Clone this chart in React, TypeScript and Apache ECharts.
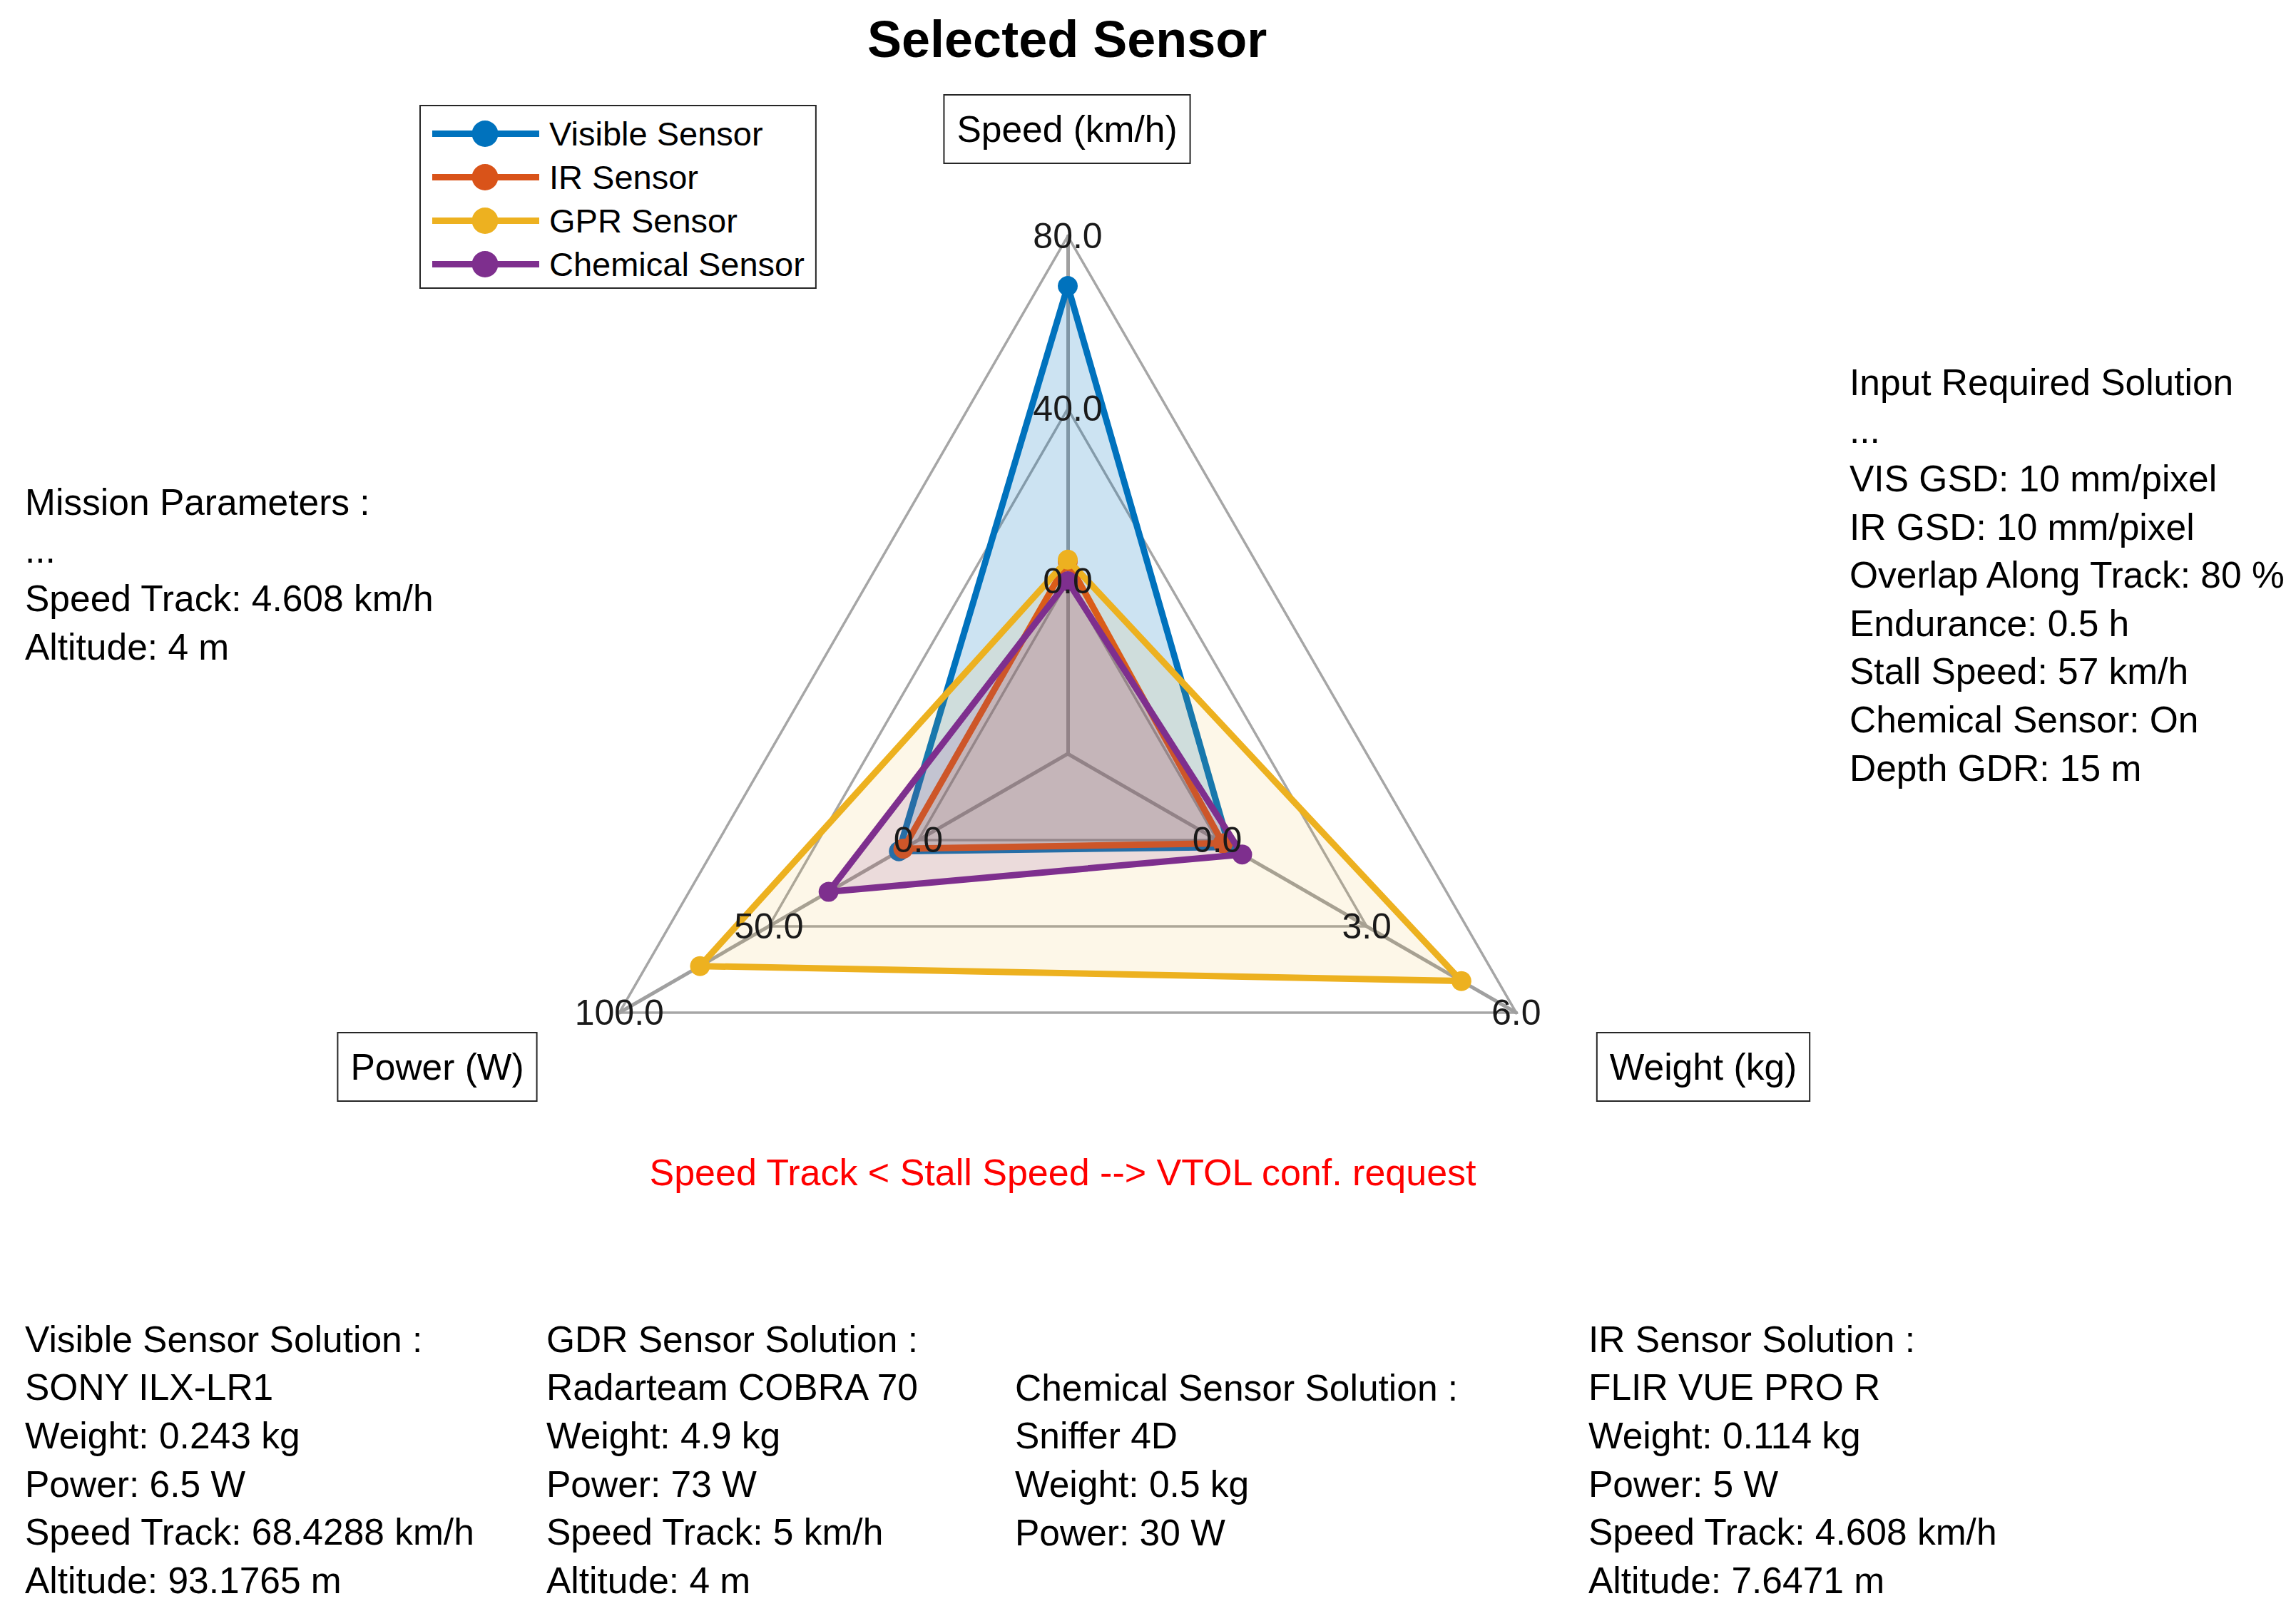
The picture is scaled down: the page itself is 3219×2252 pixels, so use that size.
import React, { useEffect, useRef } from 'react';
import * as echarts from 'echarts';

// ---- data ----
const indicatorNames = ['Speed (km/h)', 'Power (W)', 'Weight (kg)'];
const indicatorMin = [-40, -50, -3];
const indicatorMax = [80, 100, 6];

const seriesNames = ['Visible Sensor', 'IR Sensor', 'GPR Sensor', 'Chemical Sensor'];
// values ordered as [Speed, Power, Weight]
const visibleValues = [68.4288, 6.5, 0.243];
const irValues = [4.608, 5, 0.114];
const gprValues = [5, 73, 4.9];
const chemicalValues = [0, 30, 0.5];
const seriesColors = ['#0072BD', '#D95319', '#EDB120', '#7E2F8E'];
const fillOpacity = [0.2, 0.14, 0.1, 0.14];

const titleText = 'Selected Sensor';
const missionLines = ['Mission Parameters :', '...', 'Speed Track: 4.608 km/h', 'Altitude: 4 m'];
const inputLines = [
  'Input Required Solution',
  '...',
  'VIS GSD: 10 mm/pixel',
  'IR GSD: 10 mm/pixel',
  'Overlap Along Track: 80 %',
  'Endurance: 0.5 h',
  'Stall Speed: 57 km/h',
  'Chemical Sensor: On',
  'Depth GDR: 15 m',
];
const warningText = 'Speed Track < Stall Speed --> VTOL conf. request';
const visibleSolution = [
  'Visible Sensor Solution :',
  'SONY ILX-LR1',
  'Weight: 0.243 kg',
  'Power: 6.5 W',
  'Speed Track: 68.4288 km/h',
  'Altitude: 93.1765 m',
];
const gdrSolution = [
  'GDR Sensor Solution :',
  'Radarteam COBRA 70',
  'Weight: 4.9 kg',
  'Power: 73 W',
  'Speed Track: 5 km/h',
  'Altitude: 4 m',
];
const chemicalSolution = ['Chemical Sensor Solution :', 'Sniffer 4D', 'Weight: 0.5 kg', 'Power: 30 W'];
const irSolution = [
  'IR Sensor Solution :',
  'FLIR VUE PRO R',
  'Weight: 0.114 kg',
  'Power: 5 W',
  'Speed Track: 4.608 km/h',
  'Altitude: 7.6471 m',
];

const FONT = '"Liberation Sans", Arial, Helvetica, sans-serif';
const BODY_SIZE = 51.5;
const LINE_H = 67.6;

const legendIcon =
  'path://M0,14H150V23H0Z M55.5,18.5A18.5,18.5 0 1 1 92.5,18.5A18.5,18.5 0 1 1 55.5,18.5Z';

function textBlock(lines: string[], x: number, y: number, color = '#000') {
  return {
    type: 'text',
    x,
    y,
    silent: true,
    style: {
      text: lines.join('\n'),
      fontSize: BODY_SIZE,
      fontFamily: FONT,
      lineHeight: LINE_H,
      fill: color,
      align: 'left',
      verticalAlign: 'top',
      textAlign: 'left',
      textVerticalAlign: 'top',
    },
  };
}

function nameBox(text: string, x: number, y: number) {
  return {
    type: 'text',
    x,
    y,
    silent: true,
    z: 20,
    style: {
      text,
      fontSize: BODY_SIZE,
      fontFamily: FONT,
      lineHeight: 60,
      fill: '#000',
      align: 'center',
      verticalAlign: 'middle',
      textAlign: 'center',
      textVerticalAlign: 'middle',
      padding: [17, 17],
      borderColor: '#262626',
      borderWidth: 2,
      backgroundColor: '#fff',
    },
  };
}

export default function App() {
  const ref = useRef<HTMLDivElement>(null);

  useEffect(() => {
    if (!ref.current) return;
    const chart = echarts.init(ref.current, undefined, { renderer: 'svg' });

    const indicator = indicatorNames.map((name, i) => ({
      name,
      min: indicatorMin[i],
      max: indicatorMax[i],
    }));

    const radarBase = {
      center: [1497, 1057],
      radius: 726,
      startAngle: 90,
      shape: 'polygon',
      splitNumber: 3,
      indicator,
      axisName: { show: false },
      splitArea: { show: false },
    };

    const allValues = [visibleValues, irValues, gprValues, chemicalValues];

    const option: any = {
      animation: false,
      backgroundColor: '#fff',
      title: {
        text: titleText,
        left: 1216,
        top: 19,
        padding: 0,
        textStyle: { fontSize: 72, fontWeight: 'bold', fontFamily: FONT, color: '#000' },
      },
      legend: {
        orient: 'vertical',
        left: 589,
        top: 148,
        padding: [16, 16, 10, 17],
        itemWidth: 150,
        itemHeight: 37,
        itemGap: 14,
        borderColor: '#262626',
        borderWidth: 2,
        backgroundColor: '#fff',
        icon: legendIcon,
        selectedMode: false,
        itemStyle: { borderWidth: 0 },
        textStyle: { fontSize: 47, fontFamily: FONT, color: '#000', padding: [0, 0, 0, 9] },
        data: seriesNames,
      },
      radar: [
        {
          ...radarBase,
          z: 0,
          axisLine: { lineStyle: { color: '#a0a0a0', width: 5 } },
          splitLine: { lineStyle: { color: '#a6a6a6', width: 3.5 } },
          axisLabel: { show: false },
        },
        {
          ...radarBase,
          z: 10,
          silent: true,
          axisLine: { show: false },
          splitLine: { show: false },
          axisTick: { show: false },
          axisLabel: {
            show: true,
            margin: 0,
            align: 'center',
            verticalAlign: 'middle',
            fontSize: 50,
            fontFamily: FONT,
            color: '#1a1a1a',
            formatter: (v: number) => (v < 0 ? '' : Number(v).toFixed(1)),
          },
        },
      ],
      series: seriesNames.map((name, i) => ({
        type: 'radar',
        name,
        radarIndex: 0,
        z: 2 + i,
        symbol: 'circle',
        symbolSize: 28,
        itemStyle: { color: seriesColors[i] },
        lineStyle: { color: seriesColors[i], width: 9 },
        areaStyle: { color: seriesColors[i], opacity: fillOpacity[i] },
        data: [{ name, value: allValues[i] }],
      })),
      graphic: [
        textBlock(missionLines, 35, 670),
        textBlock(inputLines, 2593, 502),
        textBlock(visibleSolution, 35, 1844),
        textBlock(gdrSolution, 766, 1844),
        textBlock(chemicalSolution, 1423, 1912),
        textBlock(irSolution, 2227, 1844),
        {
          type: 'text',
          x: 1490,
          y: 1644,
          silent: true,
          style: {
            text: warningText,
            fontSize: 52,
            fontFamily: FONT,
            fill: '#ff0000',
            align: 'center',
            verticalAlign: 'middle',
            textAlign: 'center',
            textVerticalAlign: 'middle',
          },
        },
        nameBox(indicatorNames[0], 1496, 181),
        nameBox(indicatorNames[1], 613, 1496),
        nameBox(indicatorNames[2], 2388, 1496),
      ],
    };

    chart.setOption(option);
    return () => chart.dispose();
  }, []);

  return (
    <div
      ref={ref}
      style={{ position: 'fixed', left: 0, top: 0, width: 3219, height: 2252, background: '#fff' }}
    />
  );
}
